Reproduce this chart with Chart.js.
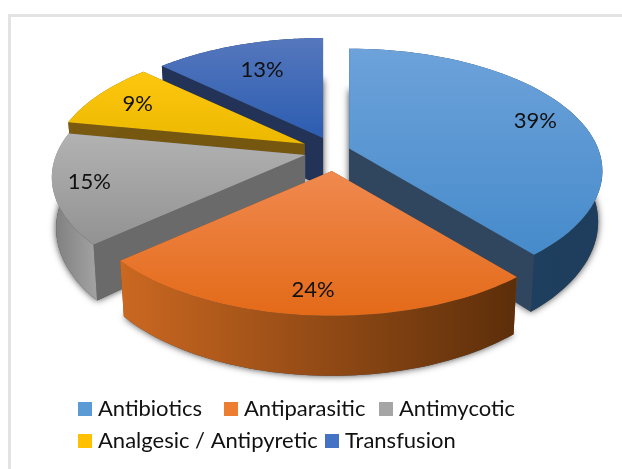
<!DOCTYPE html>
<html>
<head>
<meta charset="utf-8">
<style>
html, body { margin: 0; padding: 0; background: #fff; overflow: hidden; }
.frame { position: absolute; left: 8px; top: 14px; width: 640px; height: 480px; border: 3px solid #e3e3e3; }
canvas { position: absolute; left: 0; top: 0; }
</style>
</head>
<body>
<div class="frame"></div>
<canvas id="myChart" width="622" height="469"></canvas>
<script src="https://cdn.jsdelivr.net/npm/chart.js@4/dist/chart.umd.js"></script>
<script>
const categories = ['Antibiotics', 'Antiparasitic', 'Antimycotic', 'Analgesic / Antipyretic', 'Transfusion'];
const shares = [39, 24.4, 14.6, 9, 13];

// colours of each slice: legend box, top face (far, near), outer side (left, right), cut wall
const boxColors = ['#5b9bd5', '#ed7d31', '#a5a5a5', '#ffc000', '#4472c4'];
const topFar = ['#6da2da', '#f0894f', '#b2b2b2', '#fdc70e', '#5577bd'];
const topNear = ['#468bcb', '#e36a18', '#929292', '#ecb900', '#2c5db1'];
const sideLeft = ['#1d4468', '#cb6821', '#7d7d7d', '#7a5a10', '#233358'];
const sideRight = ['#1f3d5c', '#5c2e0a', '#a0a0a0', '#7a5a10', '#233358'];
const wallColors = ['#30465f', '#8a4a18', '#6a6a6a', '#75570f', '#233358'];

// how far each slice is pulled out, and how far along the radius its label sits
const explode = [15, 42, 31, 34, 30];
const labelAt = [0.85, 0.85, 0.85, 0.85, 0.7];

const TILT = 0.475;
const PERSP = 0.1837;
const DEPTH = 49;
const BOTTOM_X = 0.983;

// flat pie coordinates to screen, relative to the slice tip
function tipOf(arc) {
    const p = arc.getProps(['x', 'y', 'startAngle', 'endAngle']);
    const mid = (p.startAngle + p.endAngle) / 2;
    const off = arc.options.offset;
    return { x: p.x + Math.cos(mid) * off, y: p.y + Math.sin(mid) * off * TILT };
}
function project(tip, r, radius, angle, lower) {
    const u = Math.cos(angle) * r;
    const v = Math.sin(angle) * r;
    const w = 1 - PERSP * v / radius;
    if (!lower) return { x: tip.x + u / w, y: tip.y + TILT * v / w };
    return { x: tip.x + BOTTOM_X * u / w, y: tip.y + TILT * v / w + DEPTH / w };
}
function rimPoints(tip, arc, lower) {
    const p = arc.getProps(['startAngle', 'endAngle', 'outerRadius']);
    const pts = [];
    const steps = 60;
    for (let i = 0; i <= steps; i++) {
        const a = p.startAngle + (p.endAngle - p.startAngle) * i / steps;
        pts.push(project(tip, p.outerRadius, p.outerRadius, a, lower));
    }
    return pts;
}
function fillPath(ctx, pts, fill) {
    ctx.beginPath();
    pts.forEach(function (pt, i) {
        if (i == 0) ctx.moveTo(pt.x, pt.y);
        else ctx.lineTo(pt.x, pt.y);
    });
    ctx.closePath();
    ctx.fillStyle = fill;
    ctx.fill();
}

class Arc3d extends Chart.ArcElement {
    static id = 'arc3d';
    draw(ctx) {
        const i = this.$context.dataIndex;
        const tip = tipOf(this);
        const tipLow = { x: tip.x, y: tip.y + DEPTH };
        const rim = rimPoints(tip, this, false);
        const low = rimPoints(tip, this, true);

        ctx.save();
        // soft shadow under the slice
        ctx.shadowColor = 'rgba(0,0,0,0.75)';
        ctx.shadowBlur = 7;
        fillPath(ctx, [tipLow].concat(low), '#444');
        ctx.restore();

        // the two cut walls
        fillPath(ctx, [tip, rim[0], low[0], tipLow], wallColors[i]);
        fillPath(ctx, [tip, rim[rim.length - 1], low[low.length - 1], tipLow], wallColors[i]);

        // outer side
        const xs = rim.map(pt => pt.x);
        const side = ctx.createLinearGradient(Math.min.apply(null, xs), 0, Math.max.apply(null, xs), 0);
        side.addColorStop(0, sideLeft[i]);
        side.addColorStop(1, sideRight[i]);
        fillPath(ctx, rim.concat(low.slice().reverse()), side);

        // top face
        const ys = rim.map(pt => pt.y).concat(tip.y);
        const top = ctx.createLinearGradient(0, Math.min.apply(null, ys), 0, Math.max.apply(null, ys));
        top.addColorStop(0, topFar[i]);
        top.addColorStop(1, topNear[i]);
        fillPath(ctx, [tip].concat(rim), top);
    }
}

class Pie3d extends Chart.PieController {
    static id = 'pie3d';
    static defaults = { dataElementType: 'arc3d' };
    // far slices first so the near ones cover them
    draw() {
        const ctx = this.chart.ctx;
        const depth = arc => {
            const p = arc.getProps(['startAngle', 'endAngle']);
            return Math.sin((p.startAngle + p.endAngle) / 2);
        };
        this.getMeta().data.slice().sort((a, b) => depth(a) - depth(b)).forEach(arc => arc.draw(ctx));
    }
}

Chart.register(Arc3d, Pie3d);

const sliceLabels = {
    id: 'sliceLabels',
    afterDatasetsDraw(chart) {
        const ctx = chart.ctx;
        const nudge = [[-3, 5], [0, 0], [-3, -1], [9, 3], [1, 0]];
        ctx.save();
        ctx.font = '22px Lato';
        ctx.fillStyle = '#111';
        ctx.textAlign = 'center';
        ctx.textBaseline = 'middle';
        chart.getDatasetMeta(0).data.forEach(function (arc, i) {
            const p = arc.getProps(['startAngle', 'endAngle', 'outerRadius']);
            const mid = (p.startAngle + p.endAngle) / 2;
            const pt = project(tipOf(arc), p.outerRadius * labelAt[i], p.outerRadius, mid, false);
            ctx.fillText(Math.round(shares[i]) + '%', pt.x + nudge[i][0], pt.y + nudge[i][1]);
        });
        ctx.restore();
    }
};

// legend sits in two rows with uneven gaps, so it is placed by hand
const legendRows = {
    id: 'legendRows',
    afterDraw(chart) {
        const ctx = chart.ctx;
        const spots = [[78, 409], [224, 409], [379, 409], [78, 441], [325, 441]];
        ctx.save();
        ctx.font = '22px Lato';
        ctx.textBaseline = 'middle';
        categories.forEach(function (name, i) {
            const x = spots[i][0];
            const y = spots[i][1];
            ctx.fillStyle = boxColors[i];
            ctx.fillRect(x, y - 7, 14, 14);
            ctx.fillStyle = '#111';
            ctx.fillText(name, x + 20, y);
        });
        ctx.restore();
    }
};

const ctx = document.querySelector('#myChart').getContext('2d');
const myChart = new Chart(ctx, {
    type: 'pie3d',
    data: {
        labels: categories,
        datasets: [{
            label: 'Share',
            data: shares,
            backgroundColor: boxColors,
            borderWidth: 0,
            offset: explode,
            radius: 249,
            clip: false
        }]
    },
    options: {
        responsive: false,
        animation: false,
        layout: { padding: { left: 48, bottom: 167 } },
        plugins: {
            legend: { display: false },
            tooltip: { enabled: false }
        }
    },
    plugins: [sliceLabels, legendRows]
});
</script>
</body>
</html>
